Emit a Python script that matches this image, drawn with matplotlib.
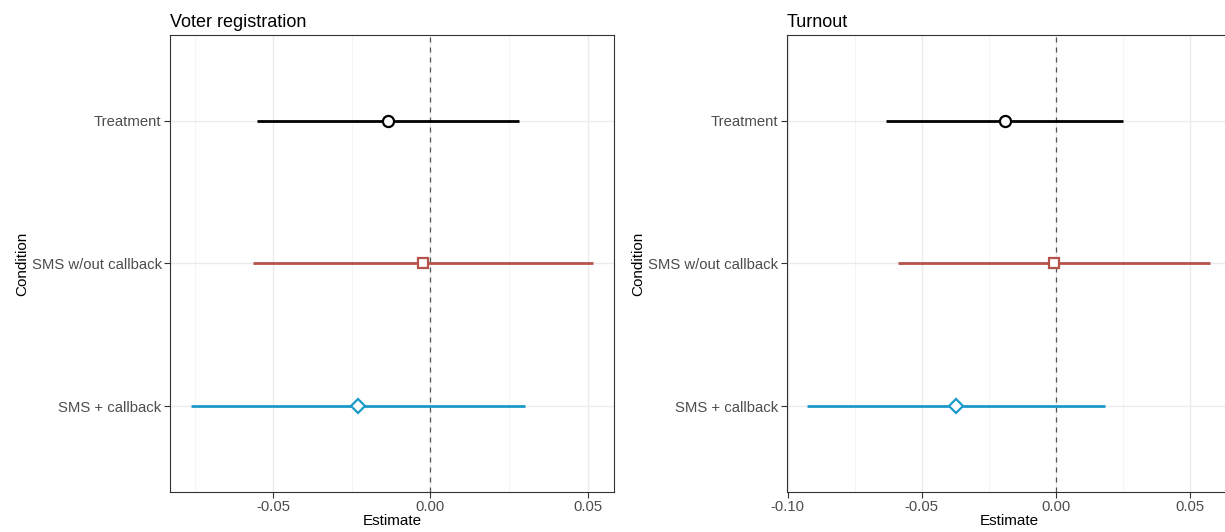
import matplotlib.pyplot as plt
import numpy as np

plt.rcParams['font.family'] = ['Liberation Sans', 'DejaVu Sans']

# Conditions from top to bottom
conditions = ['Treatment', 'SMS w/out callback', 'SMS + callback']
colors = ['#000000', '#B5534A', '#1B9AC9']
markers = ['o', 's', 'D']

# Voter registration estimates and intervals
reg_est = [-0.0134, -0.0023, -0.0230]
reg_low = [-0.0551, -0.0566, -0.0762]
reg_high = [0.0283, 0.0518, 0.0301]

# Turnout estimates and intervals
turn_est = [-0.0190, -0.0005, -0.0372]
turn_low = [-0.0634, -0.0587, -0.0928]
turn_high = [0.0253, 0.0577, 0.0185]

fig = plt.figure(figsize=(12.25, 5.32), dpi=100)
ax1 = fig.add_axes([0.1388, 0.0752, 0.3624, 0.859])
ax2 = fig.add_axes([0.6424, 0.0752, 0.3624, 0.859])

panels = [
    (ax1, 'Voter registration', reg_est, reg_low, reg_high, (-0.0829, 0.0584)),
    (ax2, 'Turnout', turn_est, turn_low, turn_high, (-0.1003, 0.0654)),
]

ypos = np.array([3, 2, 1])

for ax, title, est, low, high, xlim in panels:
    # gridlines like theme_bw
    major = [v for v in [-0.10, -0.05, 0.0, 0.05] if xlim[0] <= v <= xlim[1]]
    minor = [v for v in [-0.125, -0.075, -0.025, 0.025, 0.075] if xlim[0] <= v <= xlim[1]]
    for v in major:
        ax.axvline(v, color='#EBEBEB', lw=1.0, zorder=0)
    for v in minor:
        ax.axvline(v, color='#F2F2F2', lw=0.6, zorder=0)
    for y in ypos:
        ax.axhline(y, color='#EBEBEB', lw=1.0, zorder=0)

    ax.axvline(0, color='#555555', lw=0.9, ls=(0, (4, 4)), zorder=1)

    for i in range(len(conditions)):
        ax.hlines(ypos[i], low[i], high[i], color=colors[i], lw=2.0, zorder=2)
        ms = 8 if markers[i] == 'o' else (7.5 if markers[i] == 's' else 7)
        ax.plot(est[i], ypos[i], marker=markers[i], ms=ms, mfc='white',
                mec=colors[i], mew=1.6, zorder=3)

    ax.set_xticks(major)
    ax.set_xticklabels([f'{v:.2f}' for v in major])
    ax.set_xlim(*xlim)
    ax.set_ylim(0.4, 3.6)
    ax.set_yticks(ypos)
    ax.set_yticklabels(conditions)
    ax.tick_params(labelsize=10.7, labelcolor='#4D4D4D', color='#333333',
                   length=4, width=0.8, pad=2)
    for s in ax.spines.values():
        s.set_color('#333333')
        s.set_linewidth(0.8)
    ax.set_xlabel('Estimate', fontsize=11, labelpad=0)
    ax.set_ylabel('Condition', fontsize=11, labelpad=2)
    ax.set_title(title, loc='left', fontsize=13, pad=6)

fig.savefig('out.png', dpi=100)
